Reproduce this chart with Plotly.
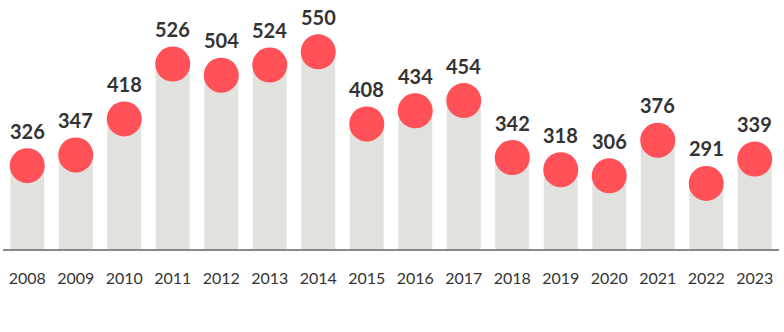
import plotly.graph_objects as go

# Annual counts, 2008-2023
years = ["2008", "2009", "2010", "2011", "2012", "2013", "2014", "2015",
         "2016", "2017", "2018", "2019", "2020", "2021", "2022", "2023"]
counts = [326, 347, 418, 526, 504, 524, 550, 408,
          434, 454, 342, 318, 306, 376, 291, 339]

BAR_COLOR = "#e1e1dd"
DOT_COLOR = "#ff5157"
TEXT_COLOR = "#333333"
FONT = "Lato"

fig = go.Figure()

# Grey columns rising from the baseline
fig.add_trace(go.Bar(
    x=years, y=counts,
    marker=dict(color=BAR_COLOR, line=dict(width=0)),
    width=0.7,
    hoverinfo="skip",
))

# Red dot capping each column
fig.add_trace(go.Scatter(
    x=years, y=counts,
    mode="markers",
    marker=dict(color=DOT_COLOR, size=35, line=dict(width=0)),
    cliponaxis=False,
    hoverinfo="skip",
))

# Value labels above the dots (category axis: position by index)
for i, v in enumerate(counts):
    fig.add_annotation(
        x=i, y=v, text=f"<b>{v}</b>",
        showarrow=False, yshift=35, yanchor="middle",
        font=dict(family=FONT, size=20, color=TEXT_COLOR),
    )

fig.update_layout(
    width=784, height=332,
    margin=dict(l=3, r=5, t=0, b=83),
    paper_bgcolor="white",
    plot_bgcolor="white",
    showlegend=False,
    bargap=0.3,
    xaxis=dict(
        type="category",
        range=[-0.5, 15.5],
        showline=True, linecolor="#8a8a8a", linewidth=2,
        ticks="", showgrid=False, zeroline=False,
        tickfont=dict(family=FONT, size=16, color=TEXT_COLOR),
        ticklabelstandoff=14,
    ),
    yaxis=dict(
        range=[162, 652],
        visible=False, showgrid=False, zeroline=False,
    ),
)

fig.write_html("out.html")
